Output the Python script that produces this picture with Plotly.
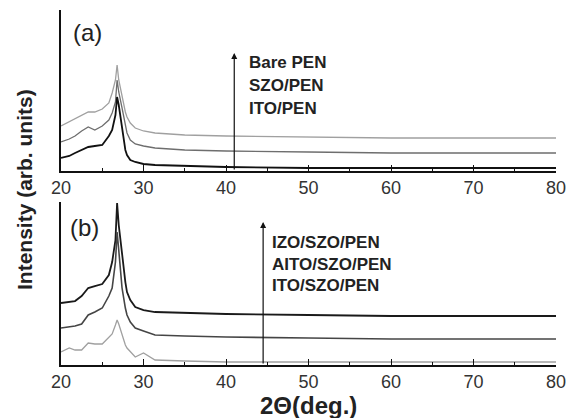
import plotly.graph_objects as go

# shared 2-theta sampling (deg.)
two_theta = [20, 21, 21.7, 22.5, 23.3, 24.1, 25, 25.8, 26.2, 26.6, 26.8, 27.0, 27.4, 27.8, 28.0, 28.4, 29, 30, 31.4, 35, 40, 50, 60, 70, 80]

# panel (a) intensities (arb. units)
bare_pen = [45, 49, 52, 55, 59, 59, 62, 68, 78, 91, 106, 91, 73, 59, 54, 48, 43, 40, 38, 36, 35, 34, 33, 33, 33]
szo_pen = [29, 32, 35, 40, 44, 41, 45, 51, 58, 69, 91, 79, 63, 46, 38, 31, 27, 25, 23, 21, 20, 19, 18, 18, 18]
ito_pen = [13, 15, 18, 21, 24, 25, 26, 35, 41, 56, 74, 66, 44, 21, 16, 11, 9, 7, 6, 5, 4, 3, 3, 3, 3]

# panel (b) intensities (arb. units)
izo_szo_pen = [62, 63, 64, 69, 77, 79, 81, 90, 103, 125, 162, 140, 110, 83, 73, 65, 58, 55, 53, 52, 51, 50, 49, 49, 49]
aito_szo_pen = [37, 38, 39, 41, 50, 53, 57, 69, 77, 103, 133, 115, 77, 57, 50, 43, 37, 34, 30, 29, 28, 27, 26, 26, 26]
ito_szo_pen = [13, 17, 15, 15, 22, 21, 21, 27, 31, 40, 45, 41, 30, 20, 17, 13, 8, 12, 5, 4, 3, 3, 3, 3, 3]

labels_a = ["Bare PEN", "SZO/PEN", "ITO/PEN"]
labels_b = ["IZO/SZO/PEN", "AITO/SZO/PEN", "ITO/SZO/PEN"]
tick_vals = [20, 30, 40, 50, 60, 70, 80]

FONT = "Liberation Sans, Arial, sans-serif"

fig = go.Figure()
for y, c, w in [(bare_pen, "#a0a0a0", 1.3), (szo_pen, "#6e6e6e", 1.3), (ito_pen, "#111111", 1.8)]:
    fig.add_trace(go.Scatter(x=two_theta, y=y, mode="lines", line=dict(color=c, width=w),
                             xaxis="x", yaxis="y", showlegend=False))
for y, c, w in [(izo_szo_pen, "#1a1a1a", 1.8), (aito_szo_pen, "#454545", 1.6), (ito_szo_pen, "#a0a0a0", 1.3)]:
    fig.add_trace(go.Scatter(x=two_theta, y=y, mode="lines", line=dict(color=c, width=w),
                             xaxis="x2", yaxis="y2", showlegend=False))

xcommon = dict(range=[20, 80], showline=True, linecolor="#111", linewidth=1.5,
               ticks="inside", ticklen=6, tickcolor="#111", tickvals=tick_vals,
               minor=dict(ticks="inside", ticklen=3, tickcolor="#111", dtick=5, tick0=20),
               showgrid=False, zeroline=False, automargin=False,
               tickfont=dict(family=FONT, size=18, color="#333"))
ycommon = dict(showline=True, linecolor="#111", linewidth=1.5, showticklabels=False,
               ticks="", showgrid=False, zeroline=False, automargin=False)

annotations = [
    dict(x=41, y=118, ax=41, ay=0, xref="x", yref="y", axref="x", ayref="y",
         showarrow=True, arrowhead=2, arrowsize=1, arrowwidth=1.2, arrowcolor="#111", text=""),
    dict(x=44.5, y=143, ax=44.5, ay=0, xref="x2", yref="y2", axref="x2", ayref="y2",
         showarrow=True, arrowhead=2, arrowsize=1, arrowwidth=1.2, arrowcolor="#111", text=""),
    dict(x=21.2, y=139, xref="x", yref="y", text="(a)", showarrow=False, xanchor="left",
         font=dict(family=FONT, size=24, color="#222")),
    dict(x=20.8, y=138, xref="x2", yref="y2", text="(b)", showarrow=False, xanchor="left",
         font=dict(family=FONT, size=24, color="#222")),
    dict(x=-0.1, y=0.493, xref="paper", yref="paper", text="<b>Intensity (arb. units)</b>",
         textangle=-90, showarrow=False, font=dict(family=FONT, size=21, color="#222")),
]
for lbl, yy in zip(labels_a, [109, 86, 63]):
    annotations.append(dict(x=42.6, y=yy, xref="x", yref="y", text="<b>" + lbl + "</b>",
                            showarrow=False, xanchor="left",
                            font=dict(family=FONT, size=17, color="#222")))
for lbl, yy in zip(labels_b, [123, 101, 80]):
    annotations.append(dict(x=45.3, y=yy, xref="x2", yref="y2", text="<b>" + lbl + "</b>",
                            showarrow=False, xanchor="left",
                            font=dict(family=FONT, size=17, color="#222")))
annotations.append(dict(x=0.5, y=-0.115, xref="paper", yref="paper", text="<b>2\u0398(deg.)</b>",
                        showarrow=False, yanchor="middle",
                        font=dict(family=FONT, size=24, color="#222")))

fig.update_layout(
    width=569, height=418,
    margin=dict(l=61, r=13, t=10, b=53),
    paper_bgcolor="white", plot_bgcolor="white",
    xaxis=dict(domain=[0, 1], anchor="y", **xcommon),
    yaxis=dict(domain=[0.5465, 1], range=[0, 161], anchor="x", **ycommon),
    xaxis2=dict(domain=[0, 1], anchor="y2", **xcommon),
    yaxis2=dict(domain=[0, 0.459], range=[0, 163], anchor="x2", **ycommon),
    annotations=annotations,
)

fig.write_html("out.html", config={"displayModeBar": False},
               post_script="document.body.style.margin='0';document.body.style.overflow='hidden';")
